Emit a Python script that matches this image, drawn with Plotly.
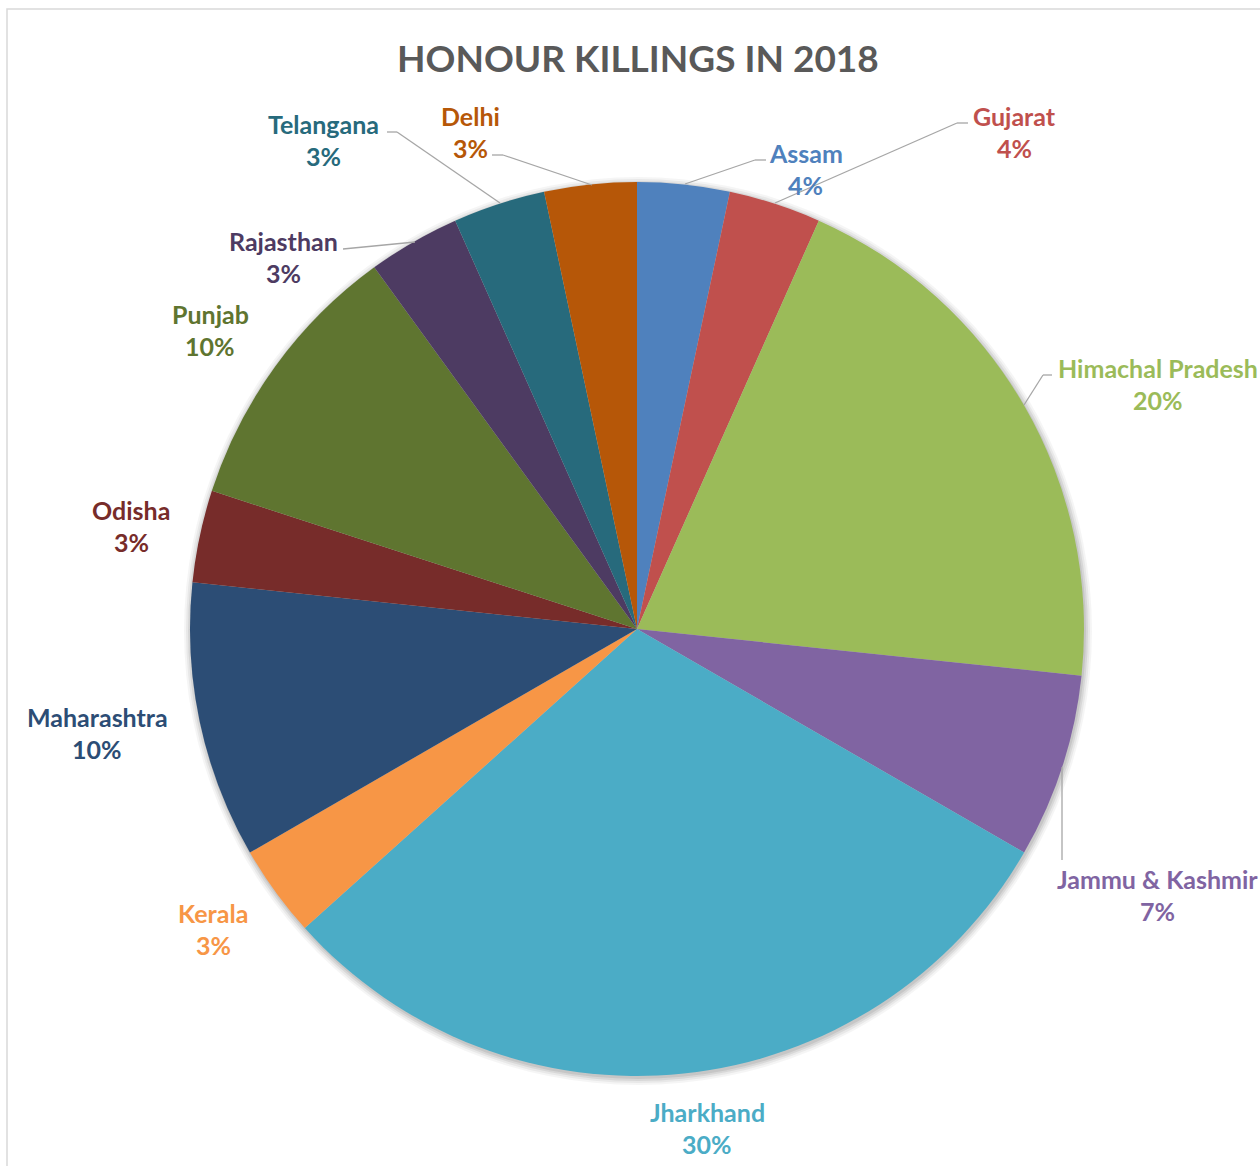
import plotly.graph_objects as go

# ---- data ----
states = ["Assam", "Gujarat", "Himachal Pradesh", "Jammu & Kashmir", "Jharkhand", "Kerala",
          "Maharashtra", "Odisha", "Punjab", "Rajasthan", "Telangana", "Delhi"]
cases = [1, 1, 6, 2, 9, 1, 3, 1, 3, 1, 1, 1]
pct_labels = ["4%", "4%", "20%", "7%", "30%", "3%", "10%", "3%", "10%", "3%", "3%", "3%"]
title_text = "HONOUR KILLINGS IN 2018"

# ---- styles / layout ----
colors = ["#4F81BD", "#C0504D", "#9BBB59", "#8064A2", "#4BACC6", "#F79646",
          "#2C4D75", "#772C2A", "#5F7530", "#4D3B62", "#276A7C", "#B65708"]
W, H = 1260, 1166
FONT = "Lato"
LABEL_SIZE = 25

def px(x):
    return x / W

def py(y):
    return 1 - y / H

# pie centre and radius (pixels)
CX, CY, R = 637, 629, 447

# label block centres (pixels)
label_pos = [(806, 169), (1014, 132), (1158, 384), (1157, 895), (707, 1128), (213, 929),
             (97, 733), (131, 526), (210, 330), (283, 257), (324, 140), (470, 132)]

# leader lines (pixel polylines)
leaders = [
    [(685, 184), (755, 160), (766, 160)],
    [(775, 203), (957, 123), (968, 123)],
    [(1024, 405), (1043, 375), (1052, 375)],
    [(1062, 767), (1062, 860)],
    [(415, 242), (343, 249)],
    [(500, 203), (397, 132), (387, 132)],
    [(592, 185), (503, 155), (492, 155)],
]

fig = go.Figure(go.Pie(
    labels=states,
    values=cases,
    sort=False,
    direction="clockwise",
    rotation=0,
    marker=dict(colors=colors, line=dict(width=0)),
    textinfo="none",
    showlegend=False,
    domain=dict(x=[px(CX - R), px(CX + R)], y=[py(CY + R), py(CY - R)]),
))

shapes = []
# chart border (clipped at page edges like the reference)
shapes.append(dict(type="rect", xref="paper", yref="paper",
                   x0=px(7), x1=1.2, y0=-0.2, y1=py(9),
                   line=dict(color="#D9D9D9", width=1.5), layer="below"))
# soft shadow under the pie
for d, op in [(7, 0.04), (5, 0.05), (3, 0.07), (1, 0.08)]:
    shapes.append(dict(type="circle", xref="paper", yref="paper",
                       x0=px(CX + 1 - R - d), x1=px(CX + 1 + R + d),
                       y0=py(CY + 2 + R + d), y1=py(CY + 2 - R - d),
                       fillcolor="black", opacity=op, line=dict(width=0), layer="below"))
for pts in leaders:
    for (x0, y0), (x1, y1) in zip(pts[:-1], pts[1:]):
        shapes.append(dict(type="line", xref="paper", yref="paper",
                           x0=px(x0), y0=py(y0), x1=px(x1), y1=py(y1),
                           line=dict(color="#A6A6A6", width=1.3)))

annotations = [dict(text=f"<b>{title_text}</b>", x=px(638), y=py(57), xref="paper", yref="paper",
                    showarrow=False, xanchor="center", yanchor="middle",
                    font=dict(family=FONT, size=37, color="#595959"))]
for name, pct, col, (lx, ly) in zip(states, pct_labels, colors, label_pos):
    annotations.append(dict(text=f"<b>{name}</b>", x=px(lx), y=py(ly - 16), xref="paper", yref="paper",
                            showarrow=False, xanchor="center", yanchor="middle",
                            font=dict(family=FONT, size=LABEL_SIZE, color=col)))
    annotations.append(dict(text=f"<b>{pct}</b>", x=px(lx), y=py(ly + 16), xref="paper", yref="paper",
                            showarrow=False, xanchor="center", yanchor="middle",
                            font=dict(family=FONT, size=LABEL_SIZE, color=col)))

fig.update_layout(
    width=W, height=H,
    margin=dict(l=0, r=0, t=0, b=0),
    paper_bgcolor="white",
    plot_bgcolor="white",
    shapes=shapes,
    annotations=annotations,
)

fig.write_html("out.html")
